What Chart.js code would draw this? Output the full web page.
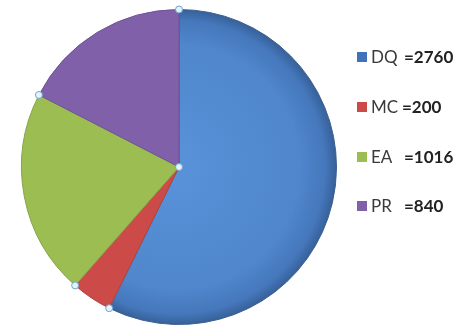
<!DOCTYPE html>
<html>
<head>
<meta charset="utf-8">
<script src="https://cdn.jsdelivr.net/npm/chart.js@4/dist/chart.umd.min.js"></script>
<style>
  html, body { margin: 0; padding: 0; background: #fff; }
  #wrap { position: relative; width: 461px; height: 330px; }
  #pie { position: absolute; left: 0; top: 0; }
  #legend { position: absolute; left: 357px; top: 0; font-family: Lato, "Open Sans", sans-serif; color: #3a3a3a; }
  .row { position: absolute; left: 0; white-space: nowrap; font-size: 17px; line-height: 20px; height: 20px; }
  .sw { position: absolute; left: 0; top: 5px; width: 10px; height: 10px; }
  .lab { position: absolute; left: 14px; top: 0; }
  .val { position: absolute; top: 0; font-weight: bold; color: #222; }
</style>
</head>
<body>
<div id="wrap">
  <canvas id="pie" width="461" height="330"></canvas>
  <div id="legend"></div>
</div>
<script>
// Categories and their totals
const categories = ['DQ', 'MC', 'EA', 'PR'];
const counts = [2760, 200, 1016, 840];
const sliceColors = ['#4f86cc', '#cc4a47', '#9bbd52', '#8060a8'];
const legendSwatch = ['#3f72b8', '#cc4a47', '#9bbd52', '#8060a8'];

// Legend rows (top of each row, and where the value starts)
const legendRowTops = [47, 97, 147, 196];
const valueOffsets = [47, 45, 47, 47];

const legend = document.getElementById('legend');
categories.forEach((c, i) => {
  const row = document.createElement('div');
  row.className = 'row';
  row.style.top = legendRowTops[i] + 'px';
  row.innerHTML = '<span class="sw" style="background:' + legendSwatch[i] + '"></span>' +
    '<span class="lab">' + c + '</span>' +
    '<span class="val" style="left:' + valueOffsets[i] + 'px">=' + counts[i] + '</span>';
  legend.appendChild(row);
});

// Shaded fill for the large slice: lighter towards the middle, darker at the rim
function dqFill(ctx) {
  const chart = ctx.chart;
  const a = chart.chartArea;
  if (!a) return sliceColors[0];
  const cx = (a.left + a.right) / 2, cy = (a.top + a.bottom) / 2;
  const r = Math.min(a.right - a.left, a.bottom - a.top) / 2;
  const g = chart.ctx.createRadialGradient(cx - 10, cy, 0, cx, cy, r);
  g.addColorStop(0, '#5a93da');
  g.addColorStop(0.78, '#4f86cc');
  g.addColorStop(0.93, '#4577bb');
  g.addColorStop(1, '#365f97');
  return g;
}

// Small selection handles at the centre and at each slice boundary on the rim
const handles = {
  id: 'handles',
  afterDatasetsDraw(chart) {
    const meta = chart.getDatasetMeta(0);
    const ctx = chart.ctx;
    const pts = [];
    meta.data.forEach((arc, i) => {
      const { x, y, outerRadius, startAngle } = arc.getProps(['x', 'y', 'outerRadius', 'startAngle'], true);
      if (i === 0) pts.push([x, y]);
      pts.push([x + outerRadius * Math.cos(startAngle), y + outerRadius * Math.sin(startAngle)]);
    });
    ctx.save();
    pts.forEach(([px, py]) => {
      ctx.beginPath();
      ctx.arc(px, py, 3.5, 0, Math.PI * 2);
      ctx.fillStyle = '#e4f2fb';
      ctx.fill();
      ctx.lineWidth = 1;
      ctx.strokeStyle = '#6fa3cf';
      ctx.stroke();
    });
    ctx.restore();
  }
};

new Chart(document.getElementById('pie'), {
  type: 'pie',
  data: {
    labels: categories,
    datasets: [{
      data: counts,
      backgroundColor: (ctx) => ctx.dataIndex === 0 ? dqFill(ctx) : sliceColors[ctx.dataIndex],
      borderColor: ['#3b5f8f', '#b04442', '#86a548', '#6f5394'],
      borderWidth: 1
    }]
  },
  options: {
    responsive: false,
    animation: false,
    events: [],
    layout: { padding: { left: 21, top: 9, right: 124, bottom: 5 } },
    plugins: {
      legend: { display: false },
      tooltip: { enabled: false }
    }
  },
  plugins: [handles]
});
</script>
</body>
</html>
